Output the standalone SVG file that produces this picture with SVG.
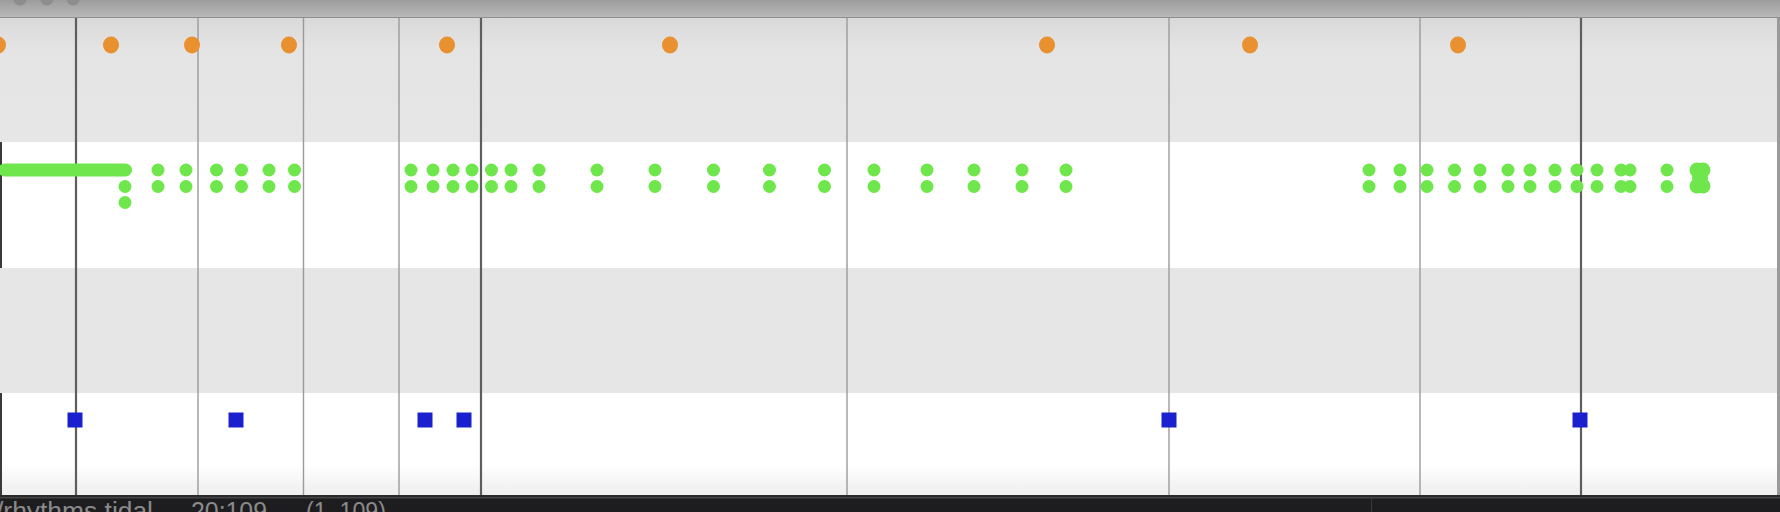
<svg xmlns="http://www.w3.org/2000/svg" width="1780" height="512" viewBox="0 0 1780 512">
<style>
.o{fill:#e8912e}
.g{fill:#6ee64c}
.b{fill:#1b20cf}
.ld{stroke:#5e5e5e;stroke-width:2.2}
.ll{stroke:#9a9a9a;stroke-width:1.4}
.st{font-family:"Liberation Sans",Arial,sans-serif;font-size:25px;fill:#8a8a8a}
</style>
<defs>
<linearGradient id="title" x1="0" y1="0" x2="0" y2="1">
<stop offset="0" stop-color="#9c9c9c"/>
<stop offset="1" stop-color="#b9b9b9"/>
</linearGradient>
<linearGradient id="topRow" x1="0" y1="0" x2="0" y2="1">
<stop offset="0" stop-color="#d9d9d9"/>
<stop offset="0.25" stop-color="#e4e4e4"/>
<stop offset="1" stop-color="#e6e6e6"/>
</linearGradient>
<linearGradient id="botRow" x1="0" y1="0" x2="0" y2="1">
<stop offset="0" stop-color="#ffffff"/>
<stop offset="0.7" stop-color="#ffffff"/>
<stop offset="1" stop-color="#eeeeee"/>
</linearGradient>
</defs>

<g id="window">
<rect x="0" y="0" width="1780" height="17" fill="url(#title)"/>
<circle cx="20" cy="-1" r="6.5" fill="#8d8d8d"/>
<circle cx="47" cy="-1" r="6.5" fill="#8d8d8d"/>
<circle cx="73" cy="-1" r="6.5" fill="#8d8d8d"/>
<rect x="0" y="17" width="1780" height="1" fill="#8e8e8e"/>
</g>

<g id="rows">
<rect x="0" y="18" width="1780" height="124" fill="url(#topRow)"/>
<rect x="0" y="142" width="1780" height="126" fill="#ffffff"/>
<rect x="0" y="268" width="1780" height="125" fill="#e6e6e6"/>
<rect x="0" y="393" width="1780" height="102" fill="url(#botRow)"/>
<rect x="0" y="142" width="2" height="126" fill="#3a3a3a"/>
<rect x="0" y="393" width="2" height="102" fill="#3a3a3a"/>
<rect x="1777" y="18" width="3" height="477" fill="#9a9a9a"/>
</g>

<g id="grid">
<line class="ld" x1="76" y1="18" x2="76" y2="495"/>
<line class="ll" x1="198" y1="18" x2="198" y2="495"/>
<line class="ll" x1="303.5" y1="18" x2="303.5" y2="495"/>
<line class="ll" x1="399" y1="18" x2="399" y2="495"/>
<line class="ld" x1="481" y1="18" x2="481" y2="495"/>
<line class="ll" x1="847" y1="18" x2="847" y2="495"/>
<line class="ll" x1="1169" y1="18" x2="1169" y2="495"/>
<line class="ll" x1="1420" y1="18" x2="1420" y2="495"/>
<line class="ld" x1="1581" y1="18" x2="1581" y2="495"/>
</g>

<g id="row1-orange">
<ellipse class="o" cx="-2" cy="45" rx="8" ry="8.5"/>
<ellipse class="o" cx="111" cy="45" rx="8" ry="8.5"/>
<ellipse class="o" cx="192" cy="45" rx="8" ry="8.5"/>
<ellipse class="o" cx="289" cy="45" rx="8" ry="8.5"/>
<ellipse class="o" cx="447" cy="45" rx="8" ry="8.5"/>
<ellipse class="o" cx="670" cy="45" rx="8" ry="8.5"/>
<ellipse class="o" cx="1047" cy="45" rx="8" ry="8.5"/>
<ellipse class="o" cx="1250" cy="45" rx="8" ry="8.5"/>
<ellipse class="o" cx="1458" cy="45" rx="8" ry="8.5"/>
</g>

<g id="row2-green">
<rect class="g" x="-2" y="163.5" width="134" height="13" rx="6.5"/>
<circle class="g" cx="125" cy="186.5" r="6.5"/>
<circle class="g" cx="125" cy="202.5" r="6.5"/>
<g id="pairs">
<circle class="g" cx="158" cy="170" r="6.5"/><circle class="g" cx="158" cy="186.5" r="6.5"/>
<circle class="g" cx="186" cy="170" r="6.5"/><circle class="g" cx="186" cy="186.5" r="6.5"/>
<circle class="g" cx="216.5" cy="170" r="6.5"/><circle class="g" cx="216.5" cy="186.5" r="6.5"/>
<circle class="g" cx="241.5" cy="170" r="6.5"/><circle class="g" cx="241.5" cy="186.5" r="6.5"/>
<circle class="g" cx="269" cy="170" r="6.5"/><circle class="g" cx="269" cy="186.5" r="6.5"/>
<circle class="g" cx="294.5" cy="170" r="6.5"/><circle class="g" cx="294.5" cy="186.5" r="6.5"/>
<circle class="g" cx="411" cy="170" r="6.5"/><circle class="g" cx="411" cy="186.5" r="6.5"/>
<circle class="g" cx="433" cy="170" r="6.5"/><circle class="g" cx="433" cy="186.5" r="6.5"/>
<circle class="g" cx="453" cy="170" r="6.5"/><circle class="g" cx="453" cy="186.5" r="6.5"/>
<circle class="g" cx="472" cy="170" r="6.5"/><circle class="g" cx="472" cy="186.5" r="6.5"/>
<circle class="g" cx="491.5" cy="170" r="6.5"/><circle class="g" cx="491.5" cy="186.5" r="6.5"/>
<circle class="g" cx="511" cy="170" r="6.5"/><circle class="g" cx="511" cy="186.5" r="6.5"/>
<circle class="g" cx="539" cy="170" r="6.5"/><circle class="g" cx="539" cy="186.5" r="6.5"/>
<circle class="g" cx="597" cy="170" r="6.5"/><circle class="g" cx="597" cy="186.5" r="6.5"/>
<circle class="g" cx="655" cy="170" r="6.5"/><circle class="g" cx="655" cy="186.5" r="6.5"/>
<circle class="g" cx="713.5" cy="170" r="6.5"/><circle class="g" cx="713.5" cy="186.5" r="6.5"/>
<circle class="g" cx="769.5" cy="170" r="6.5"/><circle class="g" cx="769.5" cy="186.5" r="6.5"/>
<circle class="g" cx="824.5" cy="170" r="6.5"/><circle class="g" cx="824.5" cy="186.5" r="6.5"/>
<circle class="g" cx="874" cy="170" r="6.5"/><circle class="g" cx="874" cy="186.5" r="6.5"/>
<circle class="g" cx="927" cy="170" r="6.5"/><circle class="g" cx="927" cy="186.5" r="6.5"/>
<circle class="g" cx="974" cy="170" r="6.5"/><circle class="g" cx="974" cy="186.5" r="6.5"/>
<circle class="g" cx="1022" cy="170" r="6.5"/><circle class="g" cx="1022" cy="186.5" r="6.5"/>
<circle class="g" cx="1066" cy="170" r="6.5"/><circle class="g" cx="1066" cy="186.5" r="6.5"/>
<circle class="g" cx="1369" cy="170" r="6.5"/><circle class="g" cx="1369" cy="186.5" r="6.5"/>
<circle class="g" cx="1400" cy="170" r="6.5"/><circle class="g" cx="1400" cy="186.5" r="6.5"/>
<circle class="g" cx="1427" cy="170" r="6.5"/><circle class="g" cx="1427" cy="186.5" r="6.5"/>
<circle class="g" cx="1454.5" cy="170" r="6.5"/><circle class="g" cx="1454.5" cy="186.5" r="6.5"/>
<circle class="g" cx="1480" cy="170" r="6.5"/><circle class="g" cx="1480" cy="186.5" r="6.5"/>
<circle class="g" cx="1508" cy="170" r="6.5"/><circle class="g" cx="1508" cy="186.5" r="6.5"/>
<circle class="g" cx="1530" cy="170" r="6.5"/><circle class="g" cx="1530" cy="186.5" r="6.5"/>
<circle class="g" cx="1555" cy="170" r="6.5"/><circle class="g" cx="1555" cy="186.5" r="6.5"/>
<circle class="g" cx="1577" cy="170" r="6.5"/><circle class="g" cx="1577" cy="186.5" r="6.5"/>
<circle class="g" cx="1597" cy="170" r="6.5"/><circle class="g" cx="1597" cy="186.5" r="6.5"/>
<circle class="g" cx="1621" cy="170" r="6.5"/><circle class="g" cx="1621" cy="186.5" r="6.5"/>
<circle class="g" cx="1630" cy="170" r="6.5"/><circle class="g" cx="1630" cy="186.5" r="6.5"/>
<circle class="g" cx="1667" cy="170" r="6.5"/><circle class="g" cx="1667" cy="186.5" r="6.5"/>
</g>
<g id="blob">
<circle class="g" cx="1697" cy="170" r="7.5"/><circle class="g" cx="1703" cy="170" r="7.5"/>
<circle class="g" cx="1697" cy="186" r="7.5"/><circle class="g" cx="1703" cy="186" r="7.5"/>
<circle class="g" cx="1700" cy="178" r="8"/>
</g>
</g>

<g id="row4-blue">
<rect class="b" x="67.5" y="412.5" width="15" height="15"/>
<rect class="b" x="228.5" y="412.5" width="15" height="15"/>
<rect class="b" x="417.5" y="412.5" width="15" height="15"/>
<rect class="b" x="456.5" y="412.5" width="15" height="15"/>
<rect class="b" x="1161.5" y="412.5" width="15" height="15"/>
<rect class="b" x="1572.5" y="412.5" width="15" height="15"/>
</g>

<g id="statusbar">
<rect x="0" y="495" width="1780" height="17" fill="#1d1d1f"/>
<rect x="0" y="495" width="1780" height="2" fill="#2a2a2a"/>
<rect x="0" y="497" width="1780" height="1.5" fill="#444446"/>
<rect x="1371" y="498" width="1" height="14" fill="#3a3a3a"/>
<text class="st" x="-4" y="520" textLength="157" lengthAdjust="spacingAndGlyphs">/rhythms.tidal</text>
<text class="st" x="191" y="520" textLength="76" lengthAdjust="spacingAndGlyphs">20:109</text>
<text class="st" x="306" y="520" textLength="80" lengthAdjust="spacingAndGlyphs">(1, 109)</text>
</g>
</svg>
